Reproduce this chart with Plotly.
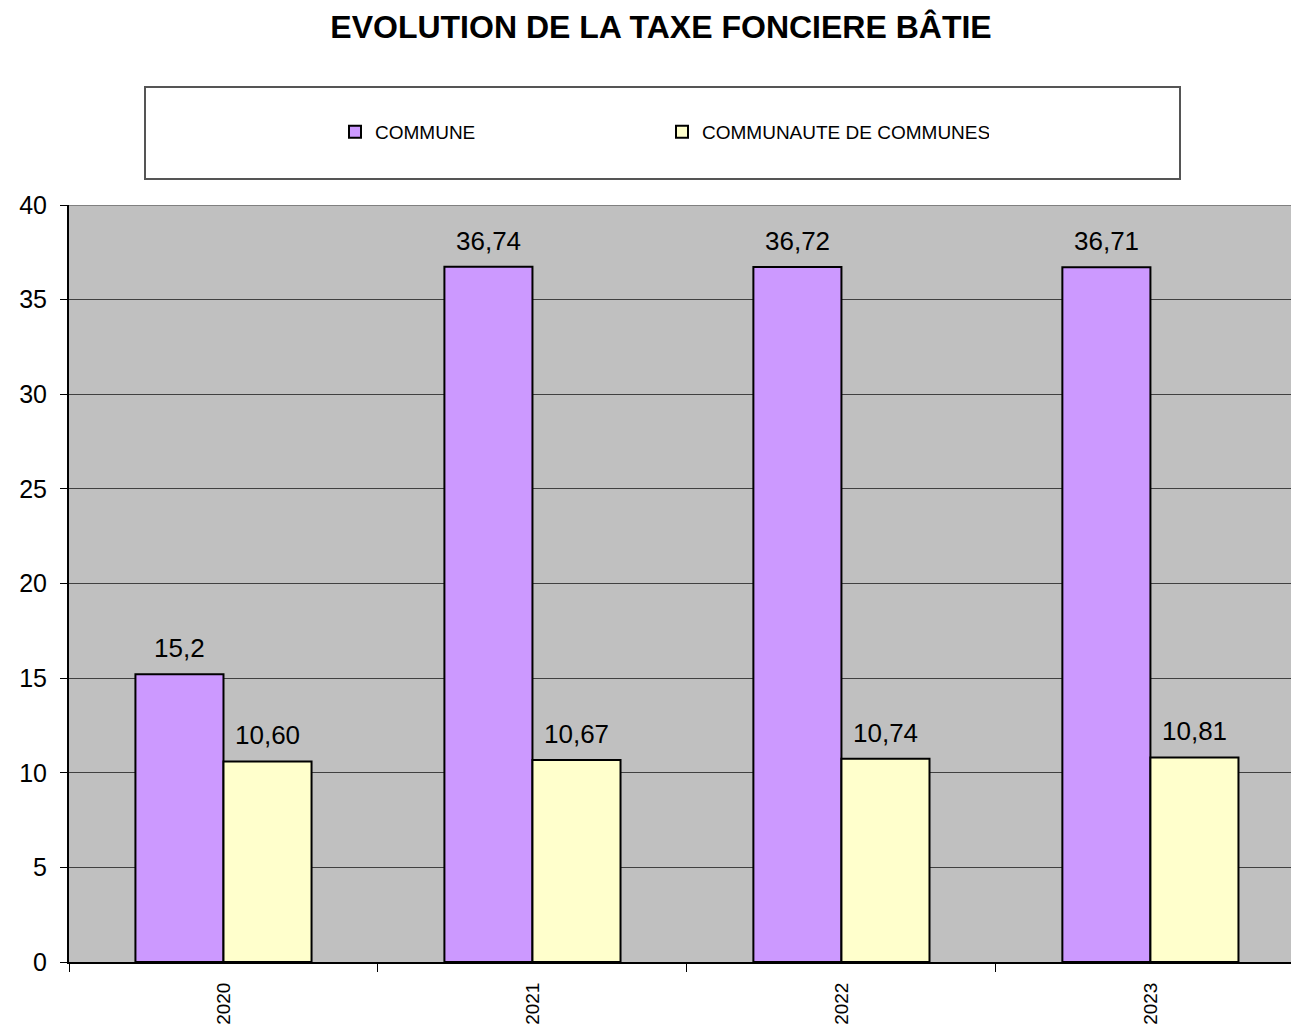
import plotly.graph_objects as go

years = ["2020", "2021", "2022", "2023"]
commune = [15.2, 36.74, 36.72, 36.71]
communaute = [10.60, 10.67, 10.74, 10.81]
commune_labels = ["15,2", "36,74", "36,72", "36,71"]
communaute_labels = ["10,60", "10,67", "10,74", "10,81"]
y_ticks = [0, 5, 10, 15, 20, 25, 30, 35, 40]

FONT = "Liberation Sans, Arial, sans-serif"
W, H = 1291, 1024
L, T, B = 69, 205, 62
PW, PH = W - L, H - T - B

fig = go.Figure()
fig.add_trace(go.Bar(
    name="COMMUNE", x=years, y=commune,
    marker=dict(color="#CC99FF", line=dict(color="black", width=2)),
))
fig.add_trace(go.Bar(
    name="COMMUNAUTE DE COMMUNES", x=years, y=communaute,
    marker=dict(color="#FFFFCC", line=dict(color="black", width=2)),
))

# étiquettes de valeur au-dessus des barres (x = index de catégorie)
for i, (v, lab) in enumerate(zip(commune, commune_labels)):
    fig.add_annotation(x=i, y=v, text=lab, showarrow=False, xshift=-44,
                       yanchor="middle", yshift=26, font=dict(size=26, color="black"))
for i, (v, lab) in enumerate(zip(communaute, communaute_labels)):
    fig.add_annotation(x=i, y=v, text=lab, showarrow=False, xshift=44,
                       yanchor="middle", yshift=26, font=dict(size=26, color="black"))

# cadre de la légende
fig.add_shape(type="rect", xref="paper", yref="paper",
              x0=(145 - L) / PW, x1=(1180 - L) / PW,
              y0=(H - B - 179) / PH, y1=(H - B - 87) / PH,
              line=dict(color="#555555", width=2), fillcolor="white", layer="below")
# bord supérieur de la zone de tracé
fig.add_shape(type="line", xref="paper", yref="y", x0=0, x1=1, y0=40, y1=40,
              line=dict(color="#808080", width=2))

fig.update_layout(
    width=W, height=H,
    margin=dict(l=L, r=0, t=T, b=B),
    paper_bgcolor="white", plot_bgcolor="#C0C0C0",
    font=dict(family=FONT, color="black"),
    title=dict(text="<b>EVOLUTION DE LA TAXE FONCIERE BÂTIE</b>",
               x=661 / W, xanchor="center", y=1 - 27 / H, yanchor="middle",
               font=dict(size=32, family=FONT, color="black")),
    barmode="group", bargap=0.43, bargroupgap=0,
    showlegend=True,
    legend=dict(orientation="h", x=(335 - L) / PW, y=(H - B - 132) / PH,
                xanchor="left", yanchor="middle", bgcolor="rgba(0,0,0,0)",
                entrywidth=282, entrywidthmode="pixels",
                font=dict(size=19, family=FONT, color="black")),
    xaxis=dict(type="category", range=[-0.5, 3.455], showline=True, linecolor="black",
               linewidth=2, ticks="outside", tickson="boundaries", ticklen=8,
               tickcolor="black", tickangle=-90, tickfont=dict(size=19),
               ticklabelstandoff=11, automargin=False, showgrid=False),
    yaxis=dict(range=[0, 40], tickvals=y_ticks, showline=True, linecolor="black",
               linewidth=2, ticks="outside", ticklen=7, tickcolor="black",
               gridcolor="#404040", gridwidth=1, zeroline=False, automargin=False,
               ticklabelstandoff=8, tickfont=dict(size=25)),
)

fig.write_html("out.html", config={"displayModeBar": False},
               post_script="document.body.style.margin='0';document.body.style.overflow='hidden';")
